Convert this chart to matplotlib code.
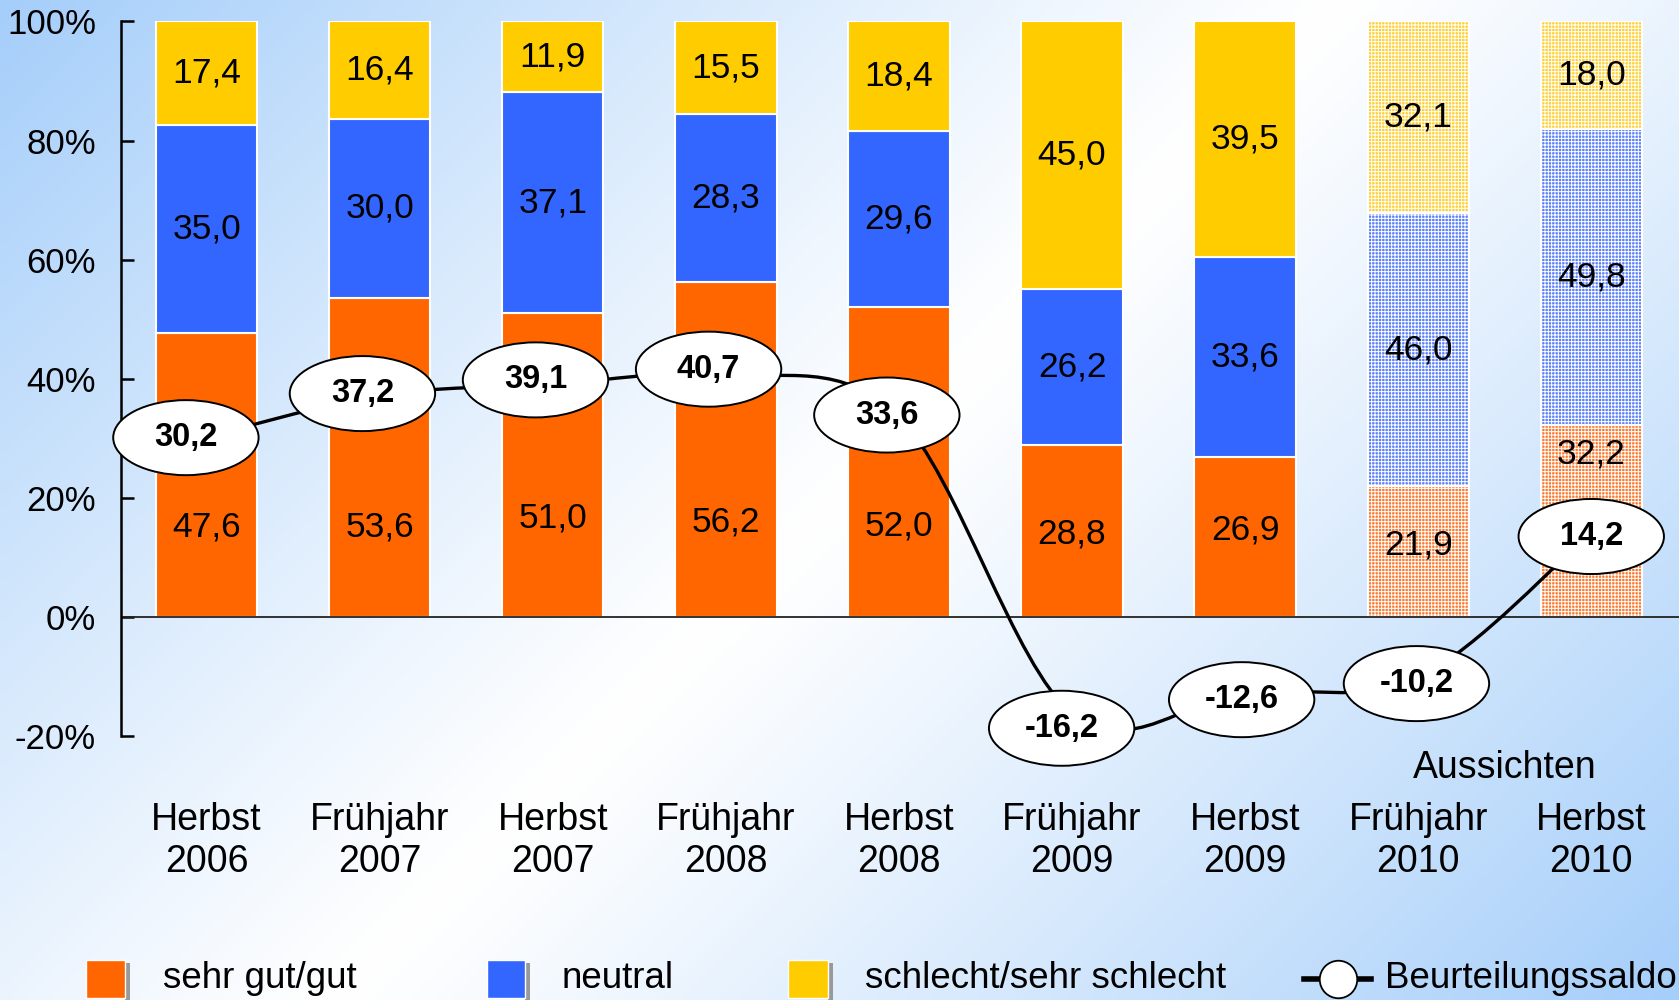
import numpy as np
import matplotlib
matplotlib.use("Agg")
import matplotlib.pyplot as plt
from matplotlib.patches import Ellipse, PathPatch, Rectangle
from matplotlib.path import Path
from matplotlib.lines import Line2D
from matplotlib.transforms import blended_transform_factory

plt.rcParams['font.family'] = ['Liberation Sans', 'DejaVu Sans']
plt.rcParams['hatch.linewidth'] = 0.7

# ---- data ----
categories = ["Herbst\n2006", "Frühjahr\n2007", "Herbst\n2007", "Frühjahr\n2008",
              "Herbst\n2008", "Frühjahr\n2009", "Herbst\n2009", "Frühjahr\n2010", "Herbst\n2010"]
gut = [47.6, 53.6, 51.0, 56.2, 52.0, 28.8, 26.9, 21.9, 32.2]
neutral = [35.0, 30.0, 37.1, 28.3, 29.6, 26.2, 33.6, 46.0, 49.8]
schlecht = [17.4, 16.4, 11.9, 15.5, 18.4, 45.0, 39.5, 32.1, 18.0]
saldo = [30.2, 37.2, 39.1, 40.7, 33.6, -16.2, -12.6, -10.2, 14.2]
forecast = [False, False, False, False, False, False, False, True, True]
yticks = [-20, 0, 20, 40, 60, 80, 100]
ytick_labels = ["-20%", "0%", "20%", "40%", "60%", "80%", "100%"]
legend_labels = ["sehr gut/gut", "neutral", "schlecht/sehr schlecht", "Beurteilungssaldo"]

# label placement (layout, not data)
gut_label_y = [15.1, 15.1, 16.6, 16.0, 15.3, 13.9, 14.6, 12.1, 27.4]
ell_dx = [-0.12, -0.10, -0.10, -0.10, -0.07, -0.06, -0.02, -0.01, 0.0]
ell_dy = [-0.1, 0.3, 0.7, 0.9, 0.3, -2.5, -1.3, -1.0, -0.7]

c_or, c_bl, c_ye = "#FF6600", "#3366FF", "#FFCC00"
c_or_l, c_bl_l, c_ye_l = "#FC7A30", "#5A80FA", "#FFD030"

W, H = 1679, 1000
fig = plt.figure(figsize=(W / 100, H / 100), dpi=100)

# background gradient
bg = fig.add_axes([0, 0, 1, 1], zorder=-10)
yy, xx = np.mgrid[0:1:200j, 0:1:340j]
t = (xx * 1.0 + yy * 0.6) / 1.6
w = np.clip(np.abs(t - 0.5) * 2, 0, 1) ** 1.1
blue = np.array([165, 206, 250]) / 255.0
img = (1 - w)[..., None] * np.ones(3) + w[..., None] * blue
bg.imshow(img, aspect='auto', extent=[0, 1, 0, 1], origin='upper', interpolation='bilinear')
bg.axis('off')

ax = fig.add_axes([121 / W, 0.264, 1 - 121 / W, 0.7146])
ax.set_facecolor('none')
x = np.arange(len(categories))
bw = 0.585

for i in x:
    fc = forecast[i]
    hatch = '+++++' if fc else None
    kw = dict(edgecolor='white', linewidth=1.5, zorder=2)
    ax.bar(i, gut[i], bw, color=c_or_l if fc else c_or, hatch=hatch, **kw)
    ax.bar(i, neutral[i], bw, bottom=gut[i], color=c_bl_l if fc else c_bl, hatch=hatch, **kw)
    ax.bar(i, schlecht[i], bw, bottom=gut[i] + neutral[i], color=c_ye_l if fc else c_ye,
           hatch=hatch, **kw)

def fmt(v):
    return f"{v:.1f}".replace(".", ",")

fs_bar = 25.5
for i in x:
    ax.text(i, gut_label_y[i], fmt(gut[i]), ha='center', va='center', fontsize=fs_bar, zorder=3)
    ax.text(i, gut[i] + neutral[i] / 2, fmt(neutral[i]), ha='center', va='center',
            fontsize=fs_bar, zorder=3)
    ax.text(i, gut[i] + neutral[i] + schlecht[i] / 2, fmt(schlecht[i]), ha='center',
            va='center', fontsize=fs_bar, zorder=3)

# zero line
ax.axhline(0, color='#222222', linewidth=1.3, zorder=2.5)

# smoothed saldo line (Catmull-Rom Bezier, like Excel smoothing)
P = np.column_stack([x, saldo]).astype(float)
verts = [P[0]]
codes = [Path.MOVETO]
n = len(P)
for i in range(n - 1):
    p0 = P[i - 1] if i > 0 else P[i]
    p1, p2 = P[i], P[i + 1]
    p3 = P[i + 2] if i + 2 < n else P[i + 1]
    c1 = p1 + (p2 - p0) / 6.0
    c2 = p2 - (p3 - p1) / 6.0
    verts += [c1, c2, p2]
    codes += [Path.CURVE4] * 3
ax.add_patch(PathPatch(Path(verts, codes), facecolor='none', edgecolor='black',
                       linewidth=2.4, zorder=4, clip_on=False))

for i in x:
    cx, cy = i + ell_dx[i], saldo[i] + ell_dy[i]
    ax.add_patch(Ellipse((cx, cy), 0.84, 12.6, facecolor='white', edgecolor='black',
                         linewidth=1.4, zorder=5, clip_on=False))
    ax.text(cx, cy, fmt(saldo[i]), ha='center', va='center', fontsize=23.5,
            fontweight='bold', zorder=6, clip_on=False)

ax.set_xlim(-0.495, 8.507)
ax.set_ylim(-20, 100)
ax.set_yticks(yticks)
ax.set_yticklabels(ytick_labels, fontsize=25)
ax.tick_params(axis='y', direction='in', length=9, width=1.8, pad=18)
ax.set_xticks([])
for s in ['top', 'right', 'bottom']:
    ax.spines[s].set_visible(False)
ax.spines['left'].set_linewidth(1.8)

tr = blended_transform_factory(ax.transData, fig.transFigure)
for i in x:
    ax.text(i, 0.159, categories[i], transform=tr, ha='center', va='center',
            fontsize=27, linespacing=1.22)
ax.text(7.5, 0.232, "Aussichten", transform=tr, ha='center', va='center', fontsize=27)

# legend (manual)
ly = 0.021
sq_h = 0.038
for (x0, x1, xt, col, lab) in [(86, 125, 163, c_or, legend_labels[0]),
                               (487, 525, 562, c_bl, legend_labels[1]),
                               (788, 828, 865, c_ye, legend_labels[2])]:
    fig.patches.append(Rectangle(((x1) / W, ly - sq_h / 2 - 0.003), 5 / W, sq_h,
                                 transform=fig.transFigure, facecolor='#999999',
                                 edgecolor='none'))
    fig.patches.append(Rectangle((x0 / W, ly - sq_h / 2), (x1 - x0) / W, sq_h,
                                 transform=fig.transFigure, facecolor=col,
                                 edgecolor='white', linewidth=1))
    fig.text(xt / W, ly, lab, ha='left', va='center', fontsize=26.5)
fig.lines.append(Line2D([1304 / W, 1371 / W], [ly, ly], transform=fig.transFigure,
                        color='black', linewidth=4, marker=None))
fig.lines.append(Line2D([1338 / W], [ly], transform=fig.transFigure, color='black',
                        marker='o', markersize=27, markerfacecolor='white',
                        markeredgecolor='black', markeredgewidth=1.3, linestyle='none'))
fig.text(1385 / W, ly, legend_labels[3], ha='left', va='center', fontsize=26.5)

fig.savefig("out.png", dpi=100)
